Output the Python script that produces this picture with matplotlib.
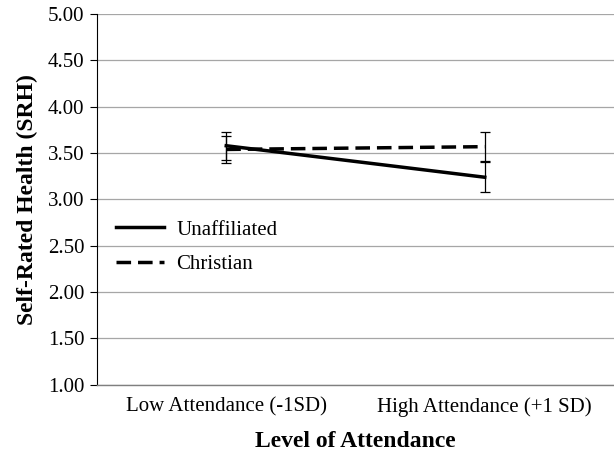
import matplotlib
matplotlib.use('Agg')
import matplotlib.pyplot as plt

plt.rcParams['font.family'] = ['Liberation Serif', 'DejaVu Serif']

categories = ['Low Attendance (-1SD)', 'High Attendance (+1 SD)']
unaffiliated = [3.58, 3.24]
unaffiliated_err = [0.15, 0.16]
christian = [3.54, 3.57]
christian_err = [0.15, 0.16]
y_ticks = [1.0, 1.5, 2.0, 2.5, 3.0, 3.5, 4.0, 4.5, 5.0]

fig = plt.figure(figsize=(6.14, 4.57), dpi=100)
ax = fig.add_axes([0.158, 0.158, 0.842, 0.811])

x = list(range(len(categories)))

ax.plot(x, unaffiliated, color='black', lw=2.5, label='Unaffiliated', zorder=3)
ax.plot(x, christian, color='black', lw=2.5, dashes=(4.2, 2.0), label='Christian', zorder=3)
ax.errorbar(x, unaffiliated, yerr=unaffiliated_err, fmt='none', ecolor='black',
            elinewidth=0.9, capsize=3.3, capthick=0.9, zorder=4)
ax.errorbar(x, christian, yerr=christian_err, fmt='none', ecolor='black',
            elinewidth=0.9, capsize=3.3, capthick=0.9, zorder=4)

ax.set_xlim(-0.5, 1.5)
ax.set_ylim(1.0, 5.0)
ax.set_yticks(y_ticks)
ax.set_yticklabels([f'{v:.2f}' for v in y_ticks])
ax.set_xticks(x)
ax.set_xticklabels(categories)

ax.grid(axis='y', color='#a6a6a6', lw=0.9)
ax.set_axisbelow(True)
for side in ['top', 'right']:
    ax.spines[side].set_visible(False)
ax.spines['left'].set_color('black')
ax.spines['bottom'].set_color('#7f7f7f')
ax.spines['bottom'].set_linewidth(1.0)
ax.tick_params(axis='y', length=5, width=0.8, labelsize=15, pad=4)
ax.tick_params(axis='x', length=0, labelsize=15, pad=9)

ax.set_ylabel('Self-Rated Health (SRH)', fontsize=17, fontweight='bold', labelpad=7)
ax.set_xlabel('Level of Attendance', fontsize=17, fontweight='bold', labelpad=10)

ax.legend(loc='center left', bbox_to_anchor=(0.0, 0.372), frameon=False,
          fontsize=15, handlelength=2.3, handletextpad=0.6, labelspacing=0.7)

fig.savefig('out.png', dpi=100)
